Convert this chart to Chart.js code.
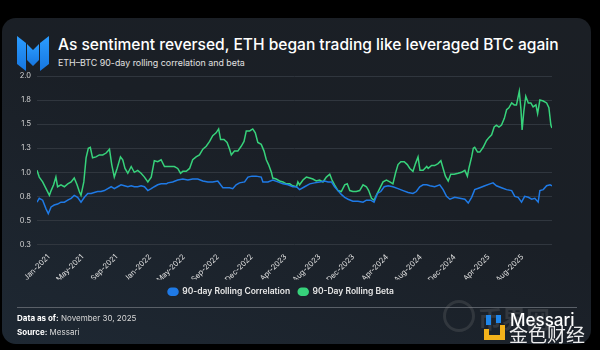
<!DOCTYPE html>
<html>
<head>
<meta charset="utf-8">
<script src="https://cdn.jsdelivr.net/npm/chart.js@4.4.1/dist/chart.umd.min.js"></script>
<style>
  html, body { margin: 0; padding: 0; background: #000; }
  body { width: 600px; height: 350px; position: relative; overflow: hidden; font-family: Inter, "Noto Sans", sans-serif; }
  #card {
    position: absolute; left: 2px; top: 18px; width: 589px; height: 326px;
    border-radius: 14px;
    background: linear-gradient(200deg, #1b1f25 0%, #1a1f26 45%, #1e2833 100%);
  }
  #logo { position: absolute; left: 16px; top: 34px; }
  #title { position: absolute; left: 58px; top: 35px; color: #fff; font-size: 17px; font-weight: 500; white-space: nowrap; }
  #subtitle { position: absolute; left: 58px; top: 57px; color: #e2e2e2; font-size: 10px; white-space: nowrap; }
  #rule { position: absolute; left: 17px; top: 307px; width: 560px; height: 1px; background: #5a6068; }
  .foot { position: absolute; left: 17px; color: #d8d8d8; font-size: 8px; white-space: nowrap; }
  .foot b { color: #fff; font-weight: 700; }
  #chart { position: absolute; left: 0; top: 0; }
  #wm-text { position: absolute; left: 510px; top: 310px; color: #fff; font-size: 17px; font-weight: 500; }
  #wm-cn { position: absolute; left: 509px; top: 320px; color: #fff; font-size: 19px; font-family: "Noto Sans CJK SC", sans-serif; opacity: 0.92; }
  #wm-ghost { position: absolute; left: 478px; top: 300px; color: rgba(160,160,160,0.18); font-size: 24px; font-weight: 700; font-family: "Noto Sans CJK SC", sans-serif; }
  #wm-ring { position: absolute; left: 443px; top: 300px; width: 26px; height: 26px; border: 3px solid rgba(140,140,140,0.2); border-radius: 50%; }
</style>
</head>
<body>
<div id="card"></div>
<svg id="logo" width="34" height="38" viewBox="0 0 34 38">
  <defs>
    <linearGradient id="lg" x1="0" y1="0" x2="0" y2="1">
      <stop offset="0" stop-color="#2b9cff"/>
      <stop offset="1" stop-color="#1676e0"/>
    </linearGradient>
  </defs>
  <polygon points="1,2 10,9 10,37 1,30" fill="url(#lg)"/>
  <polygon points="11,10 17,16 23,10 23,26 17,32 11,26" fill="url(#lg)"/>
  <polygon points="24,9 33,2 33,30 24,37" fill="url(#lg)"/>
</svg>
<div id="title">As sentiment reversed, ETH began trading like leveraged BTC again</div>
<div id="subtitle">ETH–BTC 90-day rolling correlation and beta</div>
<canvas id="chart" width="600" height="350"></canvas>
<div id="rule"></div>
<div class="foot" style="top:313px"><b>Data as of:</b> November 30, 2025</div>
<div class="foot" style="top:327px"><b>Source:</b> Messari</div>
<div id="wm-ring"></div>
<div id="wm-ghost">币界网</div>
<svg style="position:absolute;left:484px;top:313px" width="22" height="28" viewBox="0 0 22 28">
  <rect x="2" y="2" width="5" height="10" fill="#1f86ea"/>
  <rect x="12" y="2" width="5" height="8" fill="#1f86ea"/>
  <polygon points="0,16 5,16 5,22 16,22 16,12 21,12 21,27 0,27" fill="#f3b21b"/>
</svg>
<div id="wm-text">Messari</div>
<div id="wm-cn">金色财经</div>
<script>
// squeeze header text to the widths it has in the picture
function fitWidth(el, width) {
    const size = parseFloat(getComputedStyle(el).fontSize);
    el.style.fontSize = (size * width / el.getBoundingClientRect().width) + 'px';
}
fitWidth(document.getElementById('title'), 501);
fitWidth(document.getElementById('subtitle'), 187);

// days counted from 2020-11-30, data runs to 2025-11-30
const corrDays = [0, 8, 20, 32, 40, 50, 61, 73, 85, 97, 109, 121, 132, 144, 156, 168, 180, 192, 203, 215,
  227, 239, 251, 263, 274, 286, 298, 310, 322, 334, 345, 357, 369, 381, 393, 405, 416, 428, 440, 459,
  464, 481, 499, 517, 535, 552, 570, 588, 606, 623, 641, 651, 659, 671, 683, 694, 706, 718, 736, 748,
  762, 777, 795, 801, 819, 836, 854, 872, 890, 907, 920,
  931, 949, 967, 984, 1002, 1020, 1032, 1044, 1055, 1067, 1079, 1091, 1103, 1120, 1138, 1156, 1168, 1183, 1195, 1207,
  1219, 1231, 1245, 1262, 1280, 1298, 1316, 1333, 1345, 1357, 1369, 1382,
  1393, 1410, 1428, 1440, 1452, 1464, 1481, 1499, 1517, 1529, 1541, 1552, 1570, 1588, 1606, 1617, 1629, 1647, 1665, 1683,
  1694, 1706, 1718, 1729, 1742, 1754, 1765, 1777, 1783, 1795, 1807, 1819, 1826];
const corrValues = [0.69, 0.73, 0.71, 0.62, 0.57, 0.64, 0.66, 0.67, 0.69, 0.69, 0.71, 0.73, 0.76, 0.74, 0.69, 0.74, 0.78, 0.78, 0.79, 0.80,
  0.80, 0.81, 0.83, 0.85, 0.83, 0.85, 0.87, 0.86, 0.85, 0.86, 0.85, 0.85, 0.86, 0.85, 0.81, 0.83, 0.85, 0.87, 0.88, 0.88,
  0.89, 0.90, 0.92, 0.93, 0.92, 0.93, 0.93, 0.91, 0.90, 0.90, 0.91, 0.87, 0.84, 0.84, 0.84, 0.83, 0.87, 0.89, 0.90, 0.95,
  0.96, 0.96, 0.95, 0.90, 0.90, 0.92, 0.90, 0.88, 0.87, 0.85, 0.85,
  0.82, 0.85, 0.88, 0.89, 0.90, 0.91, 0.90, 0.90, 0.85, 0.81, 0.77, 0.74, 0.72, 0.70, 0.70, 0.69, 0.71, 0.71, 0.69, 0.78,
  0.80, 0.85, 0.86, 0.85, 0.83, 0.81, 0.79, 0.78, 0.80, 0.85, 0.87, 0.87,
  0.86, 0.85, 0.87, 0.82, 0.75, 0.72, 0.74, 0.73, 0.72, 0.68, 0.74, 0.82, 0.84, 0.86, 0.88, 0.89, 0.86, 0.84, 0.82, 0.81,
  0.75, 0.74, 0.69, 0.75, 0.74, 0.72, 0.73, 0.69, 0.81, 0.82, 0.86, 0.87, 0.86];

const betaDays = [0, 8, 20, 32, 44, 50, 59, 67, 73, 85, 97, 109, 121, 132, 142, 150, 156, 166, 174, 182,
  189, 197, 209, 221, 233, 245, 257, 265, 274, 284, 296, 304, 312, 322, 334, 345, 357, 369, 381, 393,
  405, 416, 428, 440, 452,
  464, 476, 487, 499, 509, 517, 529, 541, 552, 564, 576, 588, 600, 612, 623, 635, 644, 651, 663, 674,
  683, 689, 700, 712, 724, 734, 742, 754, 765, 774, 783, 795, 805, 813, 821, 831, 836, 848, 860, 872,
  884, 896, 907, 920,
  925, 931, 943, 955, 967, 978, 990, 1002, 1014, 1026, 1038, 1046, 1055, 1067, 1079, 1091, 1100, 1109, 1120, 1132,
  1144, 1156, 1168, 1176, 1186, 1195, 1203, 1215, 1227, 1239, 1251, 1262, 1271, 1280, 1290, 1302, 1313, 1322, 1333, 1342,
  1351, 1358, 1369, 1382,
  1387, 1399, 1410, 1422, 1432, 1440, 1448, 1458, 1467, 1479, 1493, 1505, 1517, 1526, 1532, 1541, 1547, 1552, 1562, 1570,
  1582, 1594, 1602, 1612, 1621, 1629, 1638, 1647, 1657, 1665, 1673, 1683, 1692, 1700, 1710, 1716, 1720, 1726, 1733, 1742,
  1751, 1759, 1769, 1775, 1783, 1795, 1807, 1815, 1822, 1826];
const betaValues = [1.02, 0.95, 0.90, 0.83, 0.76, 0.81, 0.87, 0.95, 0.85, 0.87, 0.85, 0.88, 0.90, 0.94, 0.87, 0.80, 0.76, 0.90, 1.15, 1.25,
  1.26, 1.15, 1.16, 1.18, 1.18, 1.20, 1.24, 1.08, 0.95, 1.04, 1.16, 1.13, 1.04, 0.99, 1.06, 1.00, 1.02, 0.99, 0.95, 0.90,
  0.95, 1.12, 1.11, 1.13, 1.06,
  1.06, 1.06, 1.06, 1.04, 0.99, 1.01, 1.01, 1.04, 1.13, 1.16, 1.18, 1.24, 1.27, 1.32, 1.38, 1.41, 1.45, 1.34, 1.34, 1.31,
  1.24, 1.18, 1.22, 1.22, 1.27, 1.32, 1.43, 1.43, 1.45, 1.41, 1.31, 1.29, 1.22, 1.13, 1.08, 1.00, 0.94, 0.93, 0.91, 0.90,
  0.88, 0.88, 0.86, 0.85,
  0.90, 0.87, 0.92, 0.95, 0.94, 0.93, 0.91, 0.92, 0.90, 0.95, 0.98, 0.92, 0.87, 0.81, 0.80, 0.87, 0.88, 0.81, 0.80, 0.80,
  0.81, 0.87, 0.85, 0.81, 0.73, 0.71, 0.76, 0.83, 0.90, 0.92, 0.90, 0.88, 0.99, 1.08, 1.11, 1.11, 1.08, 1.04, 1.01, 1.09,
  1.16, 1.02, 1.02, 1.06,
  1.04, 1.07, 1.07, 1.09, 1.12, 1.04, 0.96, 0.91, 0.98, 0.98, 0.99, 1.00, 1.02, 0.96, 1.05, 1.16, 1.25, 1.26, 1.21, 1.21,
  1.26, 1.33, 1.36, 1.39, 1.47, 1.49, 1.47, 1.49, 1.56, 1.65, 1.67, 1.72, 1.70, 1.70, 1.84, 1.65, 1.44, 1.63, 1.79, 1.72,
  1.72, 1.68, 1.70, 1.61, 1.75, 1.74, 1.72, 1.67, 1.49, 1.46];

const tickDays = [41, 161, 281, 401, 521, 641, 761, 881, 1001, 1121, 1241, 1361, 1481, 1601, 1721];
const tickLabels = ['Jan-2021', 'May-2021', 'Sep-2021', 'Jan-2022', 'May-2022', 'Sep-2022', 'Dec-2022', 'Apr-2023',
  'Aug-2023', 'Dec-2023', 'Apr-2024', 'Aug-2024', 'Dec-2024', 'Apr-2025', 'Aug-2025'];

const blue = '#1f7ae6';
const green = '#37d27b';

function toPoints(days, values) {
    return days.map((d, i) => ({ x: d, y: values[i] }));
}

const tickFont = { family: 'Inter', size: 7.5 };

new Chart(document.getElementById('chart'), {
    type: 'line',
    data: {
        datasets: [{
            label: '90-day Rolling Correlation',
            data: toPoints(corrDays, corrValues),
            borderColor: blue,
            backgroundColor: blue,
            borderWidth: 1.5,
            pointRadius: 0,
            tension: 0
        }, {
            label: '90-Day Rolling Beta',
            data: toPoints(betaDays, betaValues),
            borderColor: green,
            backgroundColor: green,
            borderWidth: 1.5,
            pointRadius: 0,
            tension: 0
        }]
    },
    options: {
        responsive: false,
        animation: false,
        layout: { padding: { top: 76, left: 10, right: 48, bottom: 44 } },
        scales: {
            x: {
                type: 'linear',
                min: 0,
                max: 1826,
                grid: { display: false },
                border: { display: false },
                afterBuildTicks: (scale) => {
                    scale.ticks = tickDays.map(v => ({ value: v }));
                },
                afterFit: (scale) => { scale.height = 35; },
                ticks: {
                    autoSkip: false,
                    minRotation: 45,
                    maxRotation: 45,
                    color: '#e0e0e0',
                    font: tickFont,
                    padding: 0,
                    callback: (v) => tickLabels[tickDays.indexOf(v)]
                }
            },
            y: {
                min: 0.25,
                max: 2.0,
                grid: { color: '#30363e', drawTicks: false },
                border: { display: false },
                afterFit: (scale) => { scale.width = 27; },
                ticks: {
                    stepSize: 0.25,
                    color: '#d6d6d6',
                    font: tickFont,
                    padding: 6,
                    callback: (v) => v.toFixed(1)
                }
            }
        },
        plugins: {
            legend: {
                position: 'bottom',
                labels: {
                    color: '#e8e8e8',
                    font: { family: 'Inter', size: 8.5, weight: '600' },
                    boxWidth: 10,
                    boxHeight: 7,
                    useBorderRadius: true,
                    borderRadius: 3.5,
                    padding: 8
                }
            },
            tooltip: { enabled: false }
        }
    }
});
</script>
</body>
</html>
